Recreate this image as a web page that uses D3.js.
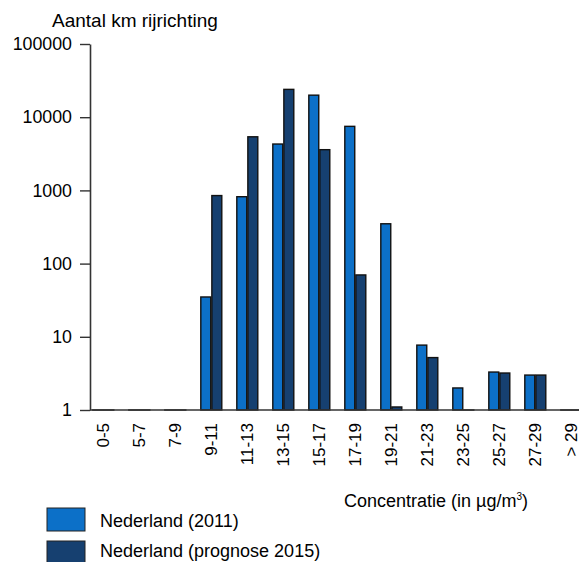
<!DOCTYPE html>
<html>
<head>
<meta charset="utf-8">
<script src="https://cdn.jsdelivr.net/npm/d3@7"></script>
<style>
  html, body { margin: 0; padding: 0; background: #fff; }
  svg { display: block; font-family: Arial, "Liberation Sans", sans-serif; }
</style>
</head>
<body>
<svg id="chart" width="579" height="562"></svg>
<script>
const categories = ["0-5","5-7","7-9","9-11","11-13","13-15","15-17","17-19","19-21","21-23","23-25","25-27","27-29","> 29"];
const seriesNames = ["Nederland (2011)", "Nederland (prognose 2015)"];
const nl2011 = [1, 1, 1, 35, 820, 4300, 20000, 7500, 350, 7.7, 2.0, 3.3, 3.0, 1];
const nl2015 = [1, 1, 1, 850, 5400, 24000, 3600, 70, 1.1, 5.2, 1, 3.2, 3.0, 1];
const yTicks = [1, 10, 100, 1000, 10000, 100000];
const colors = ["#0c70c8", "#164070"];

const svg = d3.select("#chart");
const mLeft = 90, mBottom = 410, mTop = 44;

const y = d3.scaleLog().domain([1, 100000]).range([mBottom, mTop]);

const x = d3.scaleBand()
  .domain(categories)
  .range([mLeft, mLeft + 36 * (14 - 0.417 + 2 * 0.078)])
  .paddingInner(0.417)
  .paddingOuter(0.078);

const xs = d3.scaleBand().domain([0, 1]).range([0, x.bandwidth()]).paddingInner(0.1);

const series = [nl2011, nl2015];

// bars
const groups = svg.append("g").selectAll("g")
  .data(categories)
  .join("g")
  .attr("transform", d => `translate(${x(d)},0)`);

groups.selectAll("rect")
  .data((d, i) => series.map((s, k) => ({ k, v: s[i] })))
  .join("rect")
  .attr("x", d => xs(d.k))
  .attr("width", xs.bandwidth())
  .attr("y", d => y(d.v))
  .attr("height", d => Math.max(0.01, y(1) - y(d.v)))
  .attr("fill", d => colors[d.k])
  .attr("stroke", "#111")
  .attr("stroke-width", 1.4);

// y axis
const yAxis = svg.append("g")
  .attr("transform", `translate(${mLeft},0)`)
  .call(d3.axisLeft(y).tickValues(yTicks).tickFormat(d3.format("d")).tickSize(10).tickSizeOuter(0).tickPadding(8));
yAxis.select(".domain").attr("stroke", "#333").attr("stroke-width", 1.6);
yAxis.selectAll(".tick line").attr("stroke", "#333").attr("stroke-width", 1.4);
yAxis.selectAll("text").attr("font-size", 17.8).attr("fill", "#000").attr("font-family", "Arial, 'Liberation Sans', sans-serif");

// x axis
const xAxis = svg.append("g")
  .attr("transform", `translate(0,${mBottom})`)
  .call(d3.axisBottom(x).tickSize(0).tickSizeOuter(0));
xAxis.select(".domain").remove();
xAxis.append("line").attr("x1", mLeft).attr("x2", 579).attr("y1", 0).attr("y2", 0)
  .attr("stroke", "#333").attr("stroke-width", 1.6);
xAxis.selectAll(".tick text")
  .attr("font-size", 17).attr("fill", "#000")
  .attr("font-family", "Arial, 'Liberation Sans', sans-serif")
  .attr("transform", "rotate(-90)")
  .attr("x", -13).attr("y", 0).attr("dy", "0.35em")
  .style("text-anchor", "end");

// titles
svg.append("text").attr("x", 52).attr("y", 27).attr("font-size", 19).attr("fill", "#000")
  .text("Aantal km rijrichting");

const xt = svg.append("text").attr("x", 528).attr("y", 507).attr("font-size", 18).attr("fill", "#000")
  .attr("text-anchor", "end");
xt.append("tspan").text("Concentratie (in µg/m");
xt.append("tspan").attr("font-size", 10).attr("dy", -7).text("3");
xt.append("tspan").attr("dy", 7).text(")");

// legend
const legY = [508, 541];
const legTextY = [527, 557];
const leg = svg.append("g").selectAll("g").data(seriesNames).join("g");
leg.append("rect").attr("x", 47).attr("y", (d, i) => legY[i]).attr("width", 38).attr("height", 23)
  .attr("fill", (d, i) => colors[i]).attr("stroke", "#222").attr("stroke-width", 1);
leg.append("text").attr("x", 100).attr("y", (d, i) => legTextY[i]).attr("font-size", 18).attr("fill", "#000").text(d => d);
</script>
</body>
</html>
